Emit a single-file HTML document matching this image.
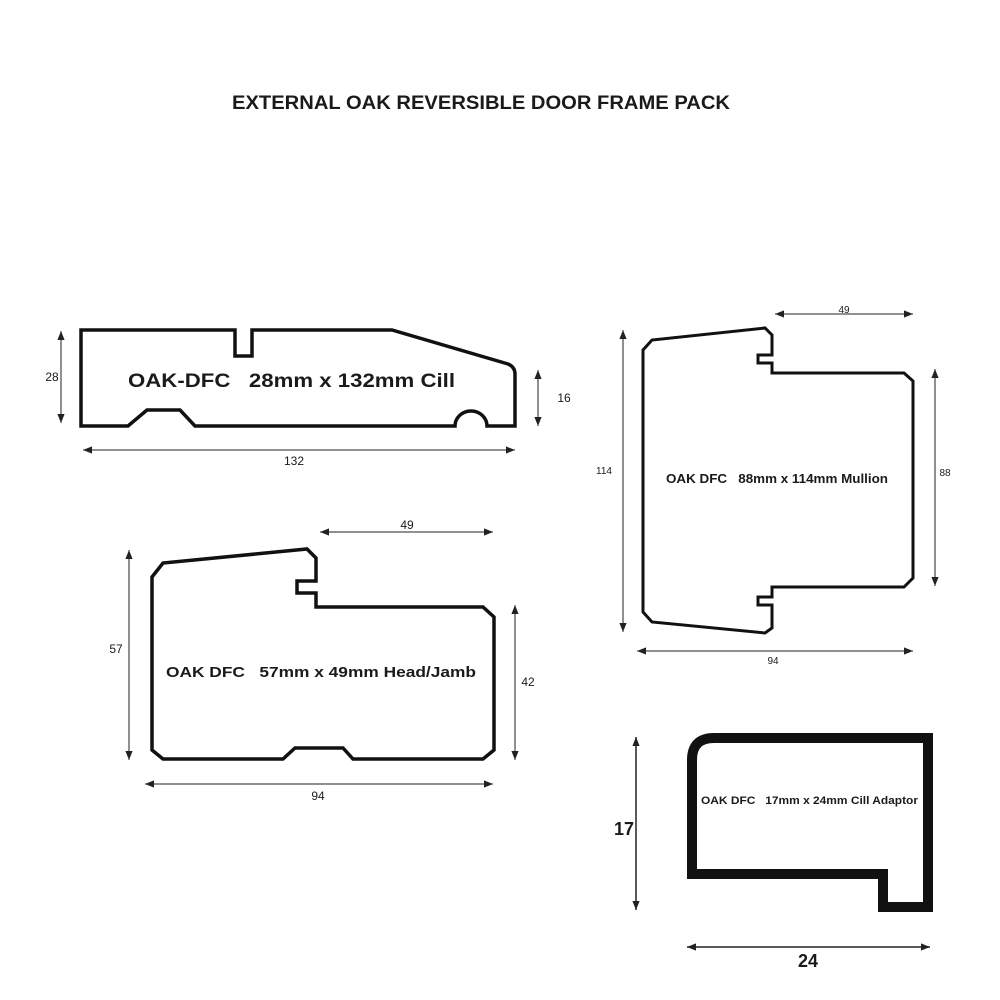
<!DOCTYPE html>
<html><head><meta charset="utf-8"><style>
html,body{margin:0;padding:0;background:#fff}
svg{display:block}
text{font-family:"Liberation Sans",sans-serif;fill:#1a1a1a}
</style></head><body>
<svg width="1000" height="1000" viewBox="0 0 1000 1000" xmlns="http://www.w3.org/2000/svg">
<defs>
<marker id="a" viewBox="0 0 10 10" refX="10" refY="5" markerWidth="9" markerHeight="9" markerUnits="userSpaceOnUse" orient="auto-start-reverse"><path d="M0,1 L10,5 L0,9 Z" fill="#222"/></marker>
</defs>
<text x="481" y="109" text-anchor="middle" font-size="19" font-weight="bold" textLength="498" lengthAdjust="spacingAndGlyphs">EXTERNAL OAK REVERSIBLE DOOR FRAME PACK</text>

<!-- Cill -->
<path d="M81,330 H235 V356 H252 V330 H392 L508,364 Q515,367 515,374 V426 H487 A16,15 0 0 0 455,426 H195 L180,410 H147 L128,426 H81 Z" fill="none" stroke="#111" stroke-width="3.5" stroke-linejoin="miter"/>
<text x="128" y="387" font-size="19" font-weight="bold" textLength="327" lengthAdjust="spacingAndGlyphs">OAK-DFC&#160;&#160;&#160;28mm x 132mm Cill</text>
<line x1="61" y1="331" x2="61" y2="423" stroke="#222" stroke-width="1" marker-start="url(#a)" marker-end="url(#a)"/>
<text x="52" y="381" font-size="12" text-anchor="middle">28</text>
<line x1="538" y1="370" x2="538" y2="426" stroke="#222" stroke-width="1" marker-start="url(#a)" marker-end="url(#a)"/>
<text x="564" y="402" font-size="12" text-anchor="middle">16</text>
<line x1="83" y1="450" x2="515" y2="450" stroke="#222" stroke-width="1" marker-start="url(#a)" marker-end="url(#a)"/>
<text x="294" y="465" font-size="12" text-anchor="middle">132</text>

<!-- Mullion -->
<path d="M643,350 L652,340 L765,328 L772,335 V355 H758 V363 H772 V373 H904 L913,381 V578 L904,587 H772 V597 H758 V605 H772 V628 L765,633 L652,622 L643,612 Z" fill="none" stroke="#111" stroke-width="3" stroke-linejoin="miter"/>
<text x="666" y="483" font-size="12.5" font-weight="bold" textLength="222" lengthAdjust="spacingAndGlyphs">OAK DFC&#160;&#160;&#160;88mm x 114mm Mullion</text>
<line x1="623" y1="330" x2="623" y2="632" stroke="#222" stroke-width="1" marker-start="url(#a)" marker-end="url(#a)"/>
<text x="604" y="474" font-size="10" text-anchor="middle">114</text>
<line x1="935" y1="369" x2="935" y2="586" stroke="#222" stroke-width="1" marker-start="url(#a)" marker-end="url(#a)"/>
<text x="945" y="476" font-size="10" text-anchor="middle">88</text>
<line x1="775" y1="314" x2="913" y2="314" stroke="#222" stroke-width="1" marker-start="url(#a)" marker-end="url(#a)"/>
<text x="844" y="313" font-size="10" text-anchor="middle">49</text>
<line x1="637" y1="651" x2="913" y2="651" stroke="#222" stroke-width="1" marker-start="url(#a)" marker-end="url(#a)"/>
<text x="773" y="664" font-size="10" text-anchor="middle">94</text>

<!-- Head/Jamb -->
<path d="M152,577 L163,563 L307,549 L316,558 V581 H297 V593 H316 V607 H483 L494,617 V750 L483,759 H353 L343,748 H295 L283,759 H163 L152,750 Z" fill="none" stroke="#111" stroke-width="3.5" stroke-linejoin="miter"/>
<text x="166" y="677" font-size="15" font-weight="bold" textLength="310" lengthAdjust="spacingAndGlyphs">OAK DFC&#160;&#160;&#160;57mm x 49mm Head/Jamb</text>
<line x1="129" y1="550" x2="129" y2="760" stroke="#222" stroke-width="1" marker-start="url(#a)" marker-end="url(#a)"/>
<text x="116" y="653" font-size="12" text-anchor="middle">57</text>
<line x1="515" y1="605" x2="515" y2="760" stroke="#222" stroke-width="1" marker-start="url(#a)" marker-end="url(#a)"/>
<text x="528" y="686" font-size="12" text-anchor="middle">42</text>
<line x1="320" y1="532" x2="493" y2="532" stroke="#222" stroke-width="1" marker-start="url(#a)" marker-end="url(#a)"/>
<text x="407" y="529" font-size="12" text-anchor="middle">49</text>
<line x1="145" y1="784" x2="493" y2="784" stroke="#222" stroke-width="1" marker-start="url(#a)" marker-end="url(#a)"/>
<text x="318" y="800" font-size="12" text-anchor="middle">94</text>

<!-- Cill adaptor -->
<path d="M692,874 V760 Q692,738 714,738 H928 V907 H883 V874 Z" fill="none" stroke="#111" stroke-width="10" stroke-linejoin="miter"/>
<text x="701" y="804" font-size="11" font-weight="bold" textLength="217" lengthAdjust="spacingAndGlyphs">OAK DFC&#160;&#160;&#160;17mm x 24mm Cill Adaptor</text>
<line x1="636" y1="737" x2="636" y2="910" stroke="#222" stroke-width="1.5" marker-start="url(#a)" marker-end="url(#a)"/>
<text x="624" y="835" font-size="18" font-weight="bold" text-anchor="middle">17</text>
<line x1="687" y1="947" x2="930" y2="947" stroke="#222" stroke-width="1.5" marker-start="url(#a)" marker-end="url(#a)"/>
<text x="808" y="967" font-size="18" font-weight="bold" text-anchor="middle">24</text>
</svg>
</body></html>
